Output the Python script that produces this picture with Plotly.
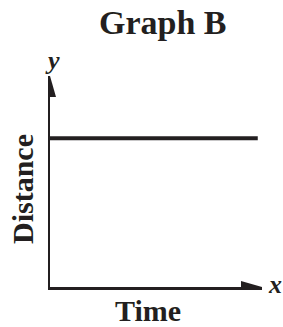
import plotly.graph_objects as go

# Data: constant distance over time
time_vals = [0, 9.8]
distance_vals = [7.05, 7.05]

W, H = 283, 327
L, R, T, B = 50, 21, 76, 40
PW, PH = W - L - R, H - T - B

def px(x):
    return (x - L) / PW

def py(y):
    return (H - B - y) / PH

SERIF = "Liberation Serif, Times New Roman, serif"
INK = "#231f20"

fig = go.Figure()
fig.add_trace(go.Scatter(x=time_vals, y=distance_vals, mode="lines",
                         line=dict(color=INK, width=4), hoverinfo="skip"))

fig.update_layout(
    width=W, height=H, margin=dict(l=L, r=R, t=T, b=B),
    paper_bgcolor="white", plot_bgcolor="white", showlegend=False,
    xaxis=dict(range=[0, 10], showline=True, linecolor=INK, linewidth=2.5,
               showgrid=False, zeroline=False, showticklabels=False, ticks=""),
    yaxis=dict(range=[0, 10], showline=True, linecolor=INK, linewidth=2.5,
               showgrid=False, zeroline=False, showticklabels=False, ticks=""),
    shapes=[
        dict(type="path", xref="x", yref="y", xsizemode="pixel", ysizemode="pixel",
             xanchor=0, yanchor=10, path="M 0 0 L -6 -21 L 6 -21 Z",
             fillcolor=INK, line=dict(width=0)),
        dict(type="path", xref="x", yref="y", xsizemode="pixel", ysizemode="pixel",
             xanchor=10, yanchor=0, path="M 0 0 L -21 6 L -21 -6 Z",
             fillcolor=INK, line=dict(width=0)),
    ],
    annotations=[
        dict(text="<b>Graph B</b>", x=px(163), y=py(23), xref="paper", yref="paper",
             showarrow=False, font=dict(family=SERIF, size=34, color=INK),
             xanchor="center", yanchor="middle"),
        dict(text="<b>Time</b>", x=px(148), y=py(310), xref="paper", yref="paper",
             showarrow=False, font=dict(family=SERIF, size=30, color=INK),
             xanchor="center", yanchor="middle"),
        dict(text="<b>Distance</b>", x=px(22), y=py(189), xref="paper", yref="paper",
             showarrow=False, textangle=-90, font=dict(family=SERIF, size=30, color=INK),
             xanchor="center", yanchor="middle"),
        dict(text="<b><i>y</i></b>", x=px(52), y=py(60), xref="paper", yref="paper",
             showarrow=False, font=dict(family=SERIF, size=26, color=INK),
             xanchor="center", yanchor="middle"),
        dict(text="<b><i>x</i></b>", x=px(275), y=py(284), xref="paper", yref="paper",
             showarrow=False, font=dict(family=SERIF, size=26, color=INK),
             xanchor="center", yanchor="middle"),
    ],
)

fig.write_html("out.html", config={"displayModeBar": False, "staticPlot": True},
               post_script="document.body.style.margin='0';document.body.style.overflow='hidden';")
